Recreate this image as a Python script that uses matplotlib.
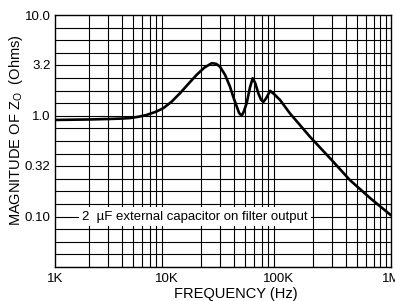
import numpy as np
import matplotlib
matplotlib.use("Agg")
import matplotlib.pyplot as plt

plt.rcParams['font.family'] = ['Liberation Sans', 'DejaVu Sans']

# Impedance curve
freq_hz = [1000, 2000, 3000, 4000, 4670, 5600, 6590, 8000, 9270, 11000,
           13100, 15500, 18400, 21500, 25100, 27500, 29700, 33000, 36500,
           39000, 41900, 44000, 46400, 48500, 51500, 55000, 58200, 61500,
           65300, 69000, 72400, 77000, 83200, 90000, 102000, 125000,
           189000, 285000, 430000, 649000, 1000000]
z_ohms = [0.91, 0.92, 0.93, 0.94, 0.95, 0.98, 1.02, 1.1, 1.19, 1.38,
          1.68, 2.07, 2.55, 3.0, 3.33, 3.28, 3.08, 2.55, 1.95,
          1.55, 1.24, 1.07, 1.0, 1.1, 1.34, 1.9, 2.36, 2.1,
          1.68, 1.45, 1.37, 1.5, 1.77, 1.65, 1.44, 1.06,
          0.62, 0.38, 0.23, 0.153, 0.103]

y_ticks = [10.0, 3.2, 1.0, 0.32, 0.10]
y_tick_labels = ["10.0", "3.2", "1.0", "0.32", "0.10"]
x_ticks = [1e3, 1e4, 1e5, 1e6]
x_tick_labels = ["1K", "10K", "100K", "1M"]

fig = plt.figure(figsize=(3.95, 3.01), dpi=100)
ax = fig.add_axes([0.139, 0.113, 0.851, 0.837])
ax.set_xscale("log")
ax.set_yscale("log")
ax.set_xlim(1e3, 1e6)
ax.set_ylim(10 ** -1.5, 10)

# grid: 1..9 per decade on x, eighth-decade steps on y
for dec in [1e3, 1e4, 1e5]:
    for m in range(2, 10):
        ax.axvline(m * dec, color="black", lw=0.8, zorder=1)
for k in range(-12, 8):
    ax.axhline(10 ** (k / 8), color="black", lw=0.8, zorder=1)

ax.plot(freq_hz, z_ohms, color="black", lw=1.9, zorder=3,
        solid_capstyle="round", solid_joinstyle="round")

ax.text(0.417, 0.1, "2  µF external capacitor on filter output",
        transform=ax.get_yaxis_transform(), ha="center", va="center",
        fontsize=9.5, zorder=4,
        bbox=dict(facecolor="white", edgecolor="none", pad=2.5))

ax.set_yticks(y_ticks)
ax.set_yticklabels(y_tick_labels)
ax.set_xticks(x_ticks)
ax.set_xticklabels(x_tick_labels)
ax.minorticks_off()
ax.tick_params(length=0, labelsize=9.5, pad=3)
ax.tick_params(axis="x", pad=4)

for s in ax.spines.values():
    s.set_linewidth(1.0)

ax.set_xlabel("FREQUENCY (Hz)", fontsize=10.5)
ax.xaxis.set_label_coords(0.539, -0.079)
ax.set_ylabel("MAGNITUDE OF Z$_\\mathregular{O}$  (Ohms)", fontsize=10.5)
ax.yaxis.set_label_coords(-0.09, 0.544)

fig.savefig("out.png", dpi=100)
